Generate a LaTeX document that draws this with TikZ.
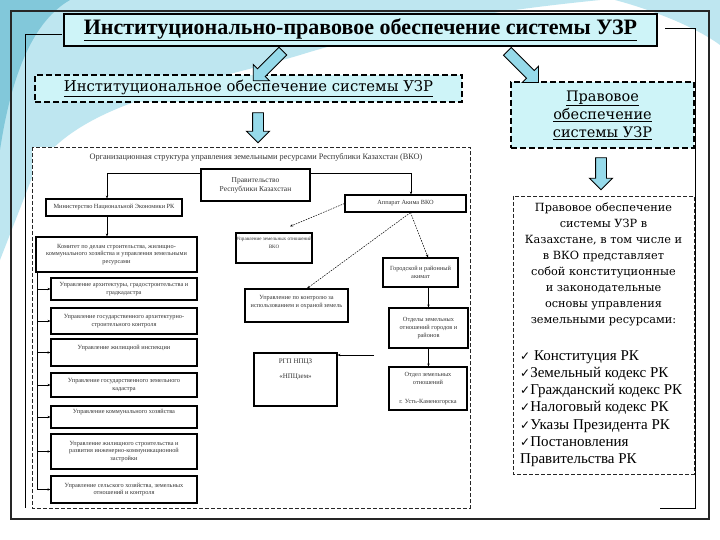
\documentclass[tikz,border=0pt]{standalone}
\usepackage{fontspec}
\setmainfont{Liberation Serif}
\newfontfamily\dvs{DejaVu Serif}
\newfontfamily\symf{DejaVu Sans}
\usetikzlibrary{shapes.arrows,arrows.meta}
\definecolor{paleCyan}{RGB}{206,244,248}
\definecolor{arrCyan}{RGB}{150,218,234}
\definecolor{swooshA}{RGB}{190,230,240}
\definecolor{swooshB}{RGB}{130,200,218}
\newcommand{\chk}{{\symf\fontsize{12}{12}\selectfont ✓}}
\begin{document}
\begin{tikzpicture}[x=1pt,y=-1pt,
  orgbox/.style={draw=black, line width=1.1pt, align=center, inner sep=1pt,
    font=\fontsize{6.3}{7.4}\selectfont, text=black!80},
  orgtxt/.style={align=center, inner sep=0pt, font=\fontsize{6.3}{7.4}\selectfont, text=black!80},
  tip/.style={-{Stealth[length=3pt,width=2.4pt]}, line width=0.6pt},
  dotc/.style={tip, line width=0.5pt, dash pattern=on 1.6pt off 1.1pt},
  blockarr/.style={single arrow, draw=black, line width=0.9pt, fill=arrCyan,
    inner xsep=0pt, inner ysep=5pt, single arrow head extend=6pt, minimum height=#1},
  thickdash/.style={draw=black, line width=1.6pt, dash pattern=on 6pt off 3pt, fill=paleCyan},
  thindash/.style={draw=black!85, line width=0.6pt, dash pattern=on 4pt off 2pt}]
\useasboundingbox (0,0) rectangle (720,540);
% background
\fill[white] (0,0) rectangle (720,540);
\fill[swooshA] (0,0) -- (600,0) .. controls (480,12) and (380,30) .. (300,55)
  .. controls (200,85) and (80,100) .. (35,170) -- (0,260) -- cycle;
\fill[swooshB] (0,0) -- (70,0) .. controls (35,20) and (12,70) .. (0,150) -- cycle;
\fill[swooshA] (615,0) -- (720,0) -- (720,45) .. controls (700,30) and (660,12) .. (615,0) -- cycle;
% frames
\draw[line width=1.3pt, black!85] (11,11) rectangle (709,519);
\draw[line width=0.8pt] (62,34) -- (25,34) -- (25,508);
\draw[line width=0.8pt] (665,28) -- (695,28) -- (695,508) -- (660,508);
% top boxes
\node[draw=black, line width=1.3pt, fill=paleCyan, minimum width=593pt, minimum height=32pt] (title) at (360.5,30)
  {\fontsize{22}{24}\selectfont\bfseries\underline{Институционально-правовое обеспечение системы УЗР}};
\node[thickdash, minimum width=427pt, minimum height=27pt] (inst) at (248.5,88.5)
  {\dvs\fontsize{14.8}{16}\selectfont\underline{Институциональное обеспечение системы УЗР}};
\node[thickdash, minimum width=183pt, minimum height=66pt, align=center, font=\dvs\fontsize{14.5}{18}\selectfont] (prav) at (602.5,115)
  {\underline{Правовое}\\\underline{обеспечение}\\\underline{системы УЗР}};
% block arrows
\node[blockarr=42pt, rotate=-135] (a1) at (270,64) {};
\node[blockarr=44pt, rotate=-45] (a2) at (521,65) {};
\node[blockarr=30pt, rotate=-90] (a3) at (258,125) {};
\node[blockarr=32pt, rotate=-90] (a4) at (601,171) {};
% dashed containers
\draw[thindash, fill=white] (32,147) rectangle (470,508);
\draw[thindash, fill=white] (513,196) rectangle (694,474);
% legal text
\node[align=center, inner sep=0pt, anchor=north, font=\dvs\fontsize{11.3}{16}\selectfont] (legal1) at (603.5,203)
  {Правовое обеспечение\\системы УЗР в\\Казахстане, в том числе и\\в ВКО представляет\\собой конституционные\\и законодательные\\основы управления\\земельными ресурсами:};
\node[align=left, inner sep=0pt, anchor=north west, font=\fontsize{15}{17.3}\selectfont] (legal2) at (520,350)
  {\chk\ Конституция РК\\\chk Земельный кодекс РК\\\chk Гражданский кодекс РК\\\chk Налоговый кодекс РК\\\chk Указы Президента РК\\\chk Постановления\\Правительства РК};
% org chart
\node[orgtxt, font=\fontsize{8.3}{9}\selectfont] (orgt) at (256,157)
  {Организационная структура управления земельными ресурсами Республики Казахстан (ВКО)};
\node[orgbox, line width=1.5pt, minimum width=109pt, minimum height=32pt, font=\fontsize{7.5}{9}\selectfont] (gov) at (255.5,185)
  {Правительство\\Республики Казахстан};
\node[orgbox, minimum width=136pt, minimum height=17pt] (mne) at (114,207.5) {Министерство Национальной Экономики РК};
\node[orgbox, minimum width=161pt, minimum height=35pt] (kom) at (116.5,254.5)
  {Комитет по делам строительства, жилищно-\\коммунального хозяйства и управления земельными\\ресурсами};
\node[orgbox, minimum width=146pt, minimum height=22pt] (u1) at (124,289) {Управление архитектуры, градостроительства и\\градкадастра};
\node[orgbox, minimum width=146pt, minimum height=26pt] (u2) at (124,321) {Управление государственного архитектурно-\\строительного контроля};
\node[orgbox, minimum width=146pt, minimum height=27pt] (u3) at (124,352.5) {};
\node[orgtxt] (u3t) at (124,348) {Управление жилищной инспекции};
\node[orgbox, minimum width=146pt, minimum height=24pt] (u4) at (124,385) {Управление государственного земельного\\кадастра};
\node[orgbox, minimum width=146pt, minimum height=22pt] (u5) at (124,417) {};
\node[orgtxt] (u5t) at (124,412) {Управление коммунального хозяйства};
\node[orgbox, minimum width=146pt, minimum height=35pt] (u6) at (124,451.5)
  {Управление жилищного строительства и\\развития инженерно-коммуникационной\\застройки};
\node[orgbox, minimum width=146pt, minimum height=27pt] (u7) at (124,489.5) {Управление сельского хозяйства, земельных\\отношений и контроля};
\node[orgbox, minimum width=121pt, minimum height=17pt] (akim) at (405.5,203.5) {Аппарат Акима ВКО};
\node[orgbox, minimum width=76pt, minimum height=30pt] (uzo) at (274,248) {};
\node[orgtxt, font=\fontsize{5.1}{7.5}\selectfont] (uzot) at (274,243) {Управление земельных отношений\\ВКО};
\node[orgbox, minimum width=75pt, minimum height=29pt] (gor) at (420.5,272.5) {Городской и районный\\акимат};
\node[orgbox, minimum width=103pt, minimum height=33pt] (kon) at (296.5,305.5) {};
\node[orgtxt] (kont) at (296.5,302) {Управление по контролю за\\использованием и охраной земель};
\node[orgbox, minimum width=79pt, minimum height=40pt, font=\fontsize{6.3}{8}\selectfont] (otd) at (428.5,328) {Отделы земельных\\отношений городов и\\районов};
\node[orgbox, minimum width=83pt, minimum height=53pt] (rgp) at (295.5,379.5) {};
\node[orgtxt, font=\fontsize{7}{8}\selectfont] (rgpt) at (295.5,369) {РГП НПЦЗ\\[7pt]«НПЦзем»};
\node[orgbox, minimum width=78pt, minimum height=43pt] (otdel) at (428,388.5) {};
\node[orgtxt, font=\fontsize{6.3}{7.4}\selectfont] (otdelt) at (428,378.5) {Отдел земельных\\отношений};
\node[orgtxt, font=\fontsize{6.3}{7.4}\selectfont] (otdelt2) at (428,402) {г. Усть-Каменогорска};
% connectors
\coordinate (m1) at ([xshift=-7pt]mne.south);
\coordinate (sp) at ([xshift=2pt]kom.south west);
\coordinate (ak1) at ([xshift=5pt]akim.south);
\coordinate (rgpin) at (374,355);
\draw[tip] ([yshift=-5pt]gov.north west) -| ([xshift=-7pt]mne.north);
\draw[tip] ([yshift=-5pt]gov.north east) -| ([xshift=5.5pt]akim.north);
\draw[tip] (m1) -- (m1 |- kom.north);
\draw[line width=0.6pt] (sp) -- (sp |- u7.west);
\foreach \n in {u1,u2,u3,u4,u5,u6,u7} \draw[tip] (sp |- \n.west) -- (\n.west);
\draw[dotc] (akim.west) -- ([xshift=16pt,yshift=6pt]uzo.north);
\draw[dotc] (ak1) -- ([xshift=7.5pt]gor.north);
\draw[dotc] (ak1) -- ([xshift=10.5pt]kon.north);
\draw[tip] (otd.north |- gor.south) -- (otd.north);
\draw[tip] (otd.south) -- (otd.south |- otdel.north);
\draw[tip, line width=1pt] (rgpin) -- (rgpin -| rgp.east);
\end{tikzpicture}
\end{document}
